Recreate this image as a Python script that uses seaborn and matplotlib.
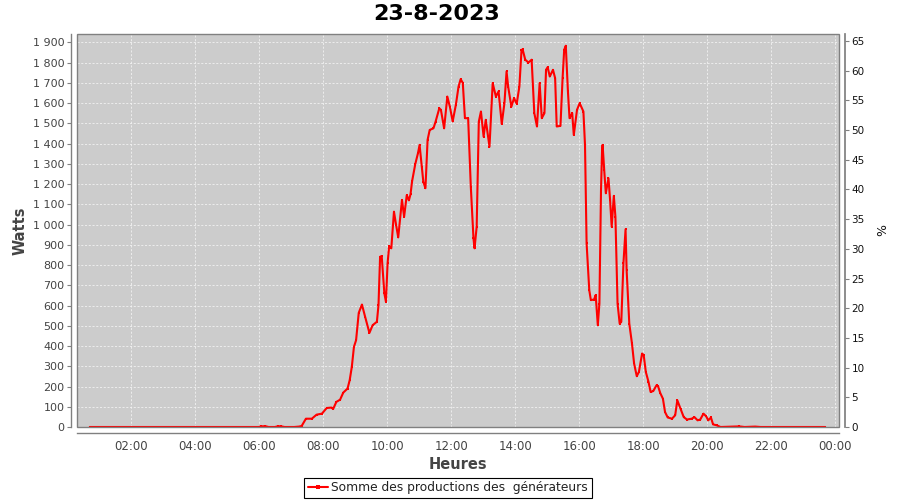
"""
Courbe de production solaire du 23-8-2023 (style JFreeChart).
"""

import matplotlib
matplotlib.use("Agg")

import matplotlib.pyplot as plt
import matplotlib.dates as mdates
import matplotlib.ticker as mticker
from matplotlib.lines import Line2D
from matplotlib.patches import Rectangle
import seaborn as sns
import pandas as pd

# ---------------------------------------------------------------------------
# Données
# ---------------------------------------------------------------------------
DAY = "2023-08-23"
TITLE = "23-8-2023"
SERIES_LABEL = "Somme des productions des  générateurs"

heures = [
    "00:43", "02:00", "03:30", "05:00", "06:00", "06:03", "06:12", "06:18",
    "06:30", "06:36", "06:42", "06:48", "07:06", "07:15", "07:20",
    "07:28", "07:39", "07:48", "07:58", "08:07", "08:16", "08:19", "08:25",
    "08:32", "08:38", "08:46", "08:50", "08:54", "08:58", "09:02", "09:07",
    "09:13", "09:19", "09:27", "09:33", "09:41", "09:44", "09:47", "09:50",
    "09:55", "09:58", "10:01", "10:04", "10:08", "10:13", "10:17", "10:21",
    "10:28", "10:32", "10:37", "10:41", "10:44", "10:47", "10:53", "10:58",
    "11:01", "11:05", "11:08", "11:12", "11:16", "11:20", "11:27", "11:31",
    "11:38", "11:41", "11:47", "11:53", "11:58", "12:03", "12:09", "12:14",
    "12:18", "12:22", "12:26", "12:32", "12:37", "12:42", "12:44", "12:48",
    "12:52", "12:56", "13:01", "13:05", "13:12", "13:18", "13:24", "13:29",
    "13:35", "13:40", "13:44", "13:47", "13:53", "13:58", "14:03", "14:08",
    "14:12", "14:14", "14:19", "14:25", "14:31", "14:36", "14:41", "14:46",
    "14:50", "14:55", "14:58", "15:01", "15:05", "15:11", "15:15", "15:18",
    "15:25", "15:29", "15:32", "15:35", "15:39", "15:42", "15:47", "15:50",
    "15:56", "16:01", "16:08", "16:11", "16:14", "16:19", "16:22", "16:28",
    "16:31", "16:35", "16:38", "16:41", "16:43", "16:44", "16:47", "16:50",
    "16:55", "16:58", "17:01", "17:05", "17:08", "17:12", "17:16", "17:19",
    "17:23", "17:27", "17:29", "17:34", "17:39", "17:43", "17:48", "17:52",
    "17:58", "18:01", "18:05", "18:10", "18:14", "18:19", "18:25", "18:28",
    "18:32", "18:37", "18:41", "18:46", "18:54", "19:00", "19:04", "19:10",
    "19:16", "19:22", "19:31", "19:36", "19:42", "19:47", "19:53", "19:58",
    "20:02", "20:07", "20:11", "20:18", "20:25", "21:00", "21:10", "21:30",
    "21:40", "22:30", "23:41",
]

watts = [
    0, 0, 0, 0, 0, 3, 4, 0,
    0, 4, 3, 0, 0, 2, 5,
    41, 41, 61, 66, 94, 96, 89, 124,
    135, 170, 190, 231, 297, 396, 429, 564,
    605, 544, 465, 503, 520, 602, 841, 845,
    660, 619, 808, 894, 883, 1064, 998, 937,
    1122, 1039, 1146, 1120, 1150, 1215, 1300, 1353,
    1394, 1287, 1212, 1180, 1419, 1468, 1476, 1509,
    1575, 1567, 1476, 1633, 1580, 1510, 1592, 1682,
    1719, 1700, 1526, 1526, 1188, 932, 883, 990,
    1509, 1559, 1435, 1518, 1385, 1699, 1633, 1658,
    1498, 1600, 1757, 1682, 1583, 1625, 1597, 1682,
    1861, 1867, 1815, 1801, 1815, 1551, 1485, 1699,
    1526, 1551, 1765, 1778, 1732, 1765, 1724, 1485,
    1488, 1724, 1864, 1884, 1658, 1526, 1551, 1443,
    1567, 1600, 1559, 1394, 907, 676, 627, 630,
    652, 503, 610, 1171, 1369, 1394, 1270, 1155,
    1229, 1122, 990, 1142, 1039, 610, 511, 520,
    808, 977, 775, 511, 413, 314, 251, 272,
    363, 355, 272, 223, 173, 178, 206, 201,
    168, 140, 74, 47, 41, 58, 132, 91,
    49, 37, 41, 49, 33, 37, 66, 53,
    33, 47, 13, 8, 0, 3, 0, 2,
    0, 0, 0,
]

watt_ticks = list(range(0, 2000, 100))
pct_ticks = list(range(0, 70, 5))
hour_ticks = ["02:00", "04:00", "06:00", "08:00", "10:00", "12:00",
              "14:00", "16:00", "18:00", "20:00", "22:00", "00:00"]

# ---------------------------------------------------------------------------
# Préparation
# ---------------------------------------------------------------------------
df = pd.DataFrame({
    "temps": pd.to_datetime([f"{DAY} {h}" for h in heures]),
    "watts": watts,
})

day0 = pd.Timestamp(DAY)
x_min = day0 + pd.Timedelta(minutes=19)
x_max = day0 + pd.Timedelta(hours=24, minutes=7)
W_MAX = 1942
PCT_MAX = W_MAX / 29.35

sns.set_theme(style="white")
plt.rcParams["font.family"] = ["DejaVu Sans"]

BG = "#cccccc"
AXIS_GREY = "#808080"
TXT = "#444444"

fig = plt.figure(figsize=(9, 5), dpi=100)
ax = fig.add_axes([77 / 900, 1 - 427 / 500, (839 - 77) / 900, (427 - 34) / 500])
ax.set_facecolor(BG)

sns.lineplot(data=df, x="temps", y="watts", ax=ax, color="#ff0000",
             linewidth=1.5, marker="s", markersize=1.5, markeredgewidth=0,
             legend=False)

ax.set_xlim(x_min, x_max)
ax.set_ylim(0, W_MAX)

# ticks X
tick_pos = [day0 + pd.Timedelta(hours=int(t[:2]) if t != "00:00" else 24) for t in hour_ticks]
ax.set_xticks(tick_pos)
ax.xaxis.set_major_formatter(mdates.DateFormatter("%H:%M"))
ax.set_yticks(watt_ticks)
ax.yaxis.set_major_formatter(
    mticker.FuncFormatter(lambda v, p: f"{int(v):,}".replace(",", " ")))

ax.grid(True, color="#f2f2f2", linestyle=(0, (2.5, 2)), linewidth=0.6)
ax.set_axisbelow(True)

for s in ("top", "right"):
    ax.spines[s].set_visible(False)
for s in ("left", "bottom"):
    ax.spines[s].set_position(("outward", 4))
    ax.spines[s].set_color(AXIS_GREY)
    ax.spines[s].set_linewidth(1)

ax.tick_params(axis="both", which="major", direction="out", length=3,
               width=0.8, color=AXIS_GREY, labelcolor=TXT, pad=2)
ax.tick_params(axis="x", labelsize=8.5)
ax.tick_params(axis="y", labelsize=8)

ax.set_xlabel("Heures", fontsize=10.5, fontweight="bold", color=TXT, labelpad=3)
ax.set_ylabel("Watts", fontsize=10.5, fontweight="bold", color=TXT, labelpad=4)

# axe de droite (%)
ax2 = ax.twinx()
ax2.set_ylim(0, PCT_MAX)
ax2.set_yticks(pct_ticks)
for s in ("top", "left", "bottom"):
    ax2.spines[s].set_visible(False)
ax2.spines["right"].set_position(("outward", 4))
ax2.spines["right"].set_color(AXIS_GREY)
ax2.tick_params(axis="y", direction="out", length=3, width=0.8,
                color=AXIS_GREY, labelcolor="#111111", labelsize=7.5, pad=2)
ax2.set_ylabel("%", fontsize=9, color="#111111", labelpad=8)
ax2.grid(False)

# contour de la zone de tracé
ax.add_patch(Rectangle((0, 0), 1, 1, transform=ax.transAxes, fill=False,
                       edgecolor=AXIS_GREY, linewidth=1, clip_on=False, zorder=5))

fig.text(0.485, 0.972, TITLE, ha="center", va="center",
         fontsize=16, fontweight="bold", color="black")

handle = Line2D([], [], color="#ff0000", linewidth=1.5, marker="s",
                markersize=2.5, markeredgewidth=0)
leg = fig.legend([handle], [SERIES_LABEL], loc="center",
                 bbox_to_anchor=(448 / 900, 1 - 488 / 500), frameon=True,
                 fancybox=False, framealpha=1, edgecolor="black",
                 fontsize=8.8, handlelength=1.6, handletextpad=0.3,
                 borderpad=0.3, borderaxespad=0)
leg.get_frame().set_linewidth(0.8)
for t in leg.get_texts():
    t.set_color("#222222")

fig.savefig("out.png", dpi=100)
plt.close(fig)
